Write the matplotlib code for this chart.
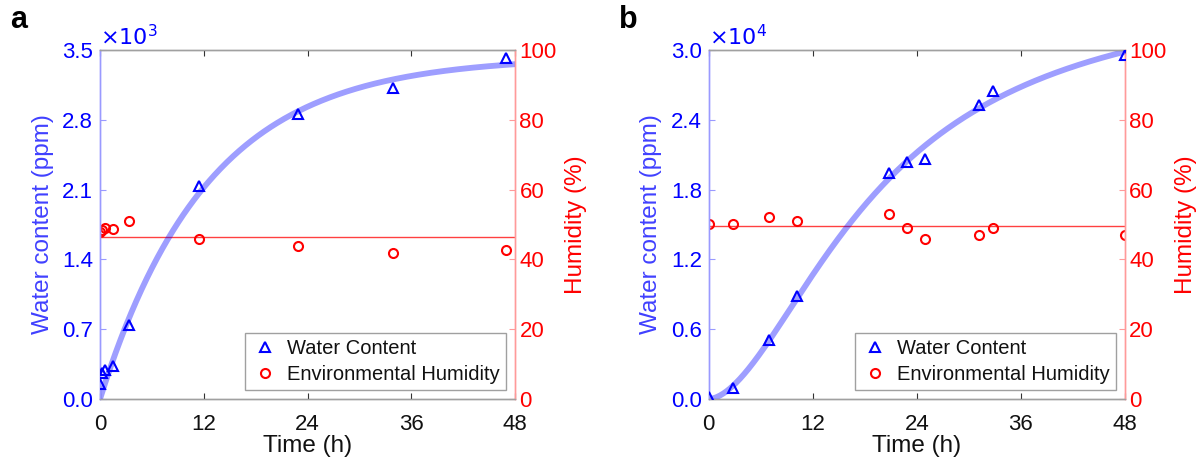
import numpy as np
import matplotlib
matplotlib.use("Agg")
import matplotlib.pyplot as plt
from matplotlib.ticker import FuncFormatter, FixedLocator

plt.rcParams['font.family'] = ['Liberation Sans', 'DejaVu Sans']

# ---------------- data ----------------
# panel a
a_time_w = [0.0, 0.2, 0.6, 1.5, 3.4, 11.4, 22.9, 33.9, 46.9]
a_water = [150, 260, 290, 330, 740, 2140, 2860, 3120, 3420]
a_time_h = [0.0, 0.2, 0.6, 1.5, 3.4, 11.4, 22.9, 33.9, 46.9]
a_humid = [47.8, 48.3, 48.9, 48.8, 50.9, 45.7, 43.8, 41.8, 42.7]

# panel b
b_time_w = [0.0, 2.8, 7.0, 10.2, 20.8, 22.9, 24.9, 31.2, 32.8, 48.0]
b_water = [200, 930, 5040, 8870, 19440, 20330, 20610, 25240, 26440, 29550]
b_time_h = [0.0, 2.8, 7.0, 10.2, 20.8, 22.9, 24.9, 31.2, 32.8, 48.0]
b_humid = [50.0, 50.0, 52.1, 51.1, 53.1, 49.0, 45.9, 47.0, 49.0, 47.0]

x_ticks = [0, 12, 24, 36, 48]
a_yticks = [0, 700, 1400, 2100, 2800, 3500]
b_yticks = [0, 6000, 12000, 18000, 24000, 30000]
h_ticks = [0, 20, 40, 60, 80, 100]


# ---------------- fits (least squares from the data) ----------------
def fit_exp(t, y):
    t = np.asarray(t, float); y = np.asarray(y, float)
    best = None
    for tau in np.linspace(2, 60, 2000):
        f = 1 - np.exp(-t / tau)
        A = (f @ y) / (f @ f)
        err = np.sum((A * f - y) ** 2)
        if best is None or err < best[0]:
            best = (err, A, tau)
    _, A, tau = best
    return lambda x: A * (1 - np.exp(-x / tau))


def fit_hill(t, y):
    t = np.asarray(t, float); y = np.asarray(y, float)
    best = None
    for n in np.linspace(1.2, 4.0, 141):
        for k in np.linspace(8, 60, 261):
            f = t ** n / (k ** n + t ** n)
            A = (f @ y) / (f @ f)
            err = np.sum((A * f - y) ** 2)
            if best is None or err < best[0]:
                best = (err, A, n, k)
    _, A, n, k = best
    return lambda x: A * x ** n / (k ** n + x ** n)


fa = fit_exp(a_time_w, a_water)
fb = fit_hill(b_time_w, b_water)
tt = np.linspace(0, 48, 400)

fig = plt.figure(figsize=(11.99, 4.66), dpi=100)

BLUE = '#0000ff'
RED = '#ff0000'
FS = 16
LFS = 17.5


def panel(rect, tw, w, th, h, fit, yticks, exp_label, letter, scale):
    ax = fig.add_axes(rect)
    ax2 = ax.twinx()
    ax.set_zorder(ax2.get_zorder() + 1)
    ax.patch.set_visible(False)

    ax.plot(tt, fit(tt), color=BLUE, alpha=0.38, lw=4.2, solid_capstyle='butt', zorder=2)
    l1, = ax.plot(tw, w, linestyle='none', marker='^', markersize=7.5,
                  markerfacecolor='none', markeredgecolor=BLUE, markeredgewidth=1.5,
                  label='Water Content', zorder=3)
    ax2.axhline(np.mean(h), color=RED, lw=1.0, alpha=0.75)
    l2, = ax2.plot(th, h, linestyle='none', marker='o', markersize=6.5,
                   markerfacecolor='none', markeredgecolor=RED, markeredgewidth=1.5,
                   label='Environmental Humidity')

    ax.set_xlim(0, 48)
    ax.set_ylim(yticks[0], yticks[-1])
    ax2.set_ylim(0, 100)
    ax.xaxis.set_major_locator(FixedLocator(x_ticks))
    ax.yaxis.set_major_locator(FixedLocator(yticks))
    ax.yaxis.set_major_formatter(FuncFormatter(lambda v, p: f"{v / scale:.1f}"))
    ax2.yaxis.set_major_locator(FixedLocator(h_ticks))

    ax.tick_params(axis='x', direction='in', top=True, length=4, colors='#333333',
                   labelcolor='#111111', labelsize=FS, width=0.8, pad=11)
    ax.tick_params(axis='y', direction='in', length=4, colors='#9a9aff',
                   labelcolor=BLUE, labelsize=FS, width=0.8, pad=5)
    ax2.tick_params(axis='y', direction='in', length=4, colors='#ff9a9a',
                    labelcolor=RED, labelsize=FS, width=0.8, pad=3)

    for a_ in (ax, ax2):
        a_.spines['top'].set_color('#a0a0a0')
        a_.spines['bottom'].set_color('#a0a0a0')
        a_.spines['left'].set_color('#9a9aff')
        a_.spines['right'].set_color('#ff9a9a')
        for s in a_.spines.values():
            s.set_linewidth(1.0)

    ax.set_xlabel('Time (h)', fontsize=LFS, color='#111111', labelpad=0)
    ax.set_ylabel('Water content (ppm)', fontsize=LFS, color=BLUE, alpha=0.75, labelpad=6)
    ax2.set_ylabel('Humidity (%)', fontsize=LFS, color=RED, labelpad=6)

    ax.text(0.0, 1.0, exp_label, transform=ax.transAxes, color=BLUE, fontsize=FS,
            ha='left', va='bottom')
    fig.text(rect[0] - 0.075, 0.925, letter, fontsize=22, fontweight='bold', ha='left', va='bottom')

    leg = ax.legend(handles=[l1, l2], loc='lower right', fontsize=14.5, frameon=True,
                    fancybox=False, edgecolor='#a0a0a0', framealpha=1, borderpad=0.3,
                    handletextpad=0.4, borderaxespad=0.45, labelspacing=0.35,
                    handlelength=1.4)
    leg.get_frame().set_linewidth(1.0)
    for t in leg.get_texts():
        t.set_color('#111111')
    return ax


panel([0.0834, 0.1438, 0.3464, 0.749], a_time_w, a_water, a_time_h, a_humid, fa,
      a_yticks, r'$\times 10^{3}$', 'a', 1000.0)
panel([0.5911, 0.1438, 0.3472, 0.749], b_time_w, b_water, b_time_h, b_humid, fb,
      b_yticks, r'$\times 10^{4}$', 'b', 10000.0)

fig.savefig('out.png', dpi=100)
